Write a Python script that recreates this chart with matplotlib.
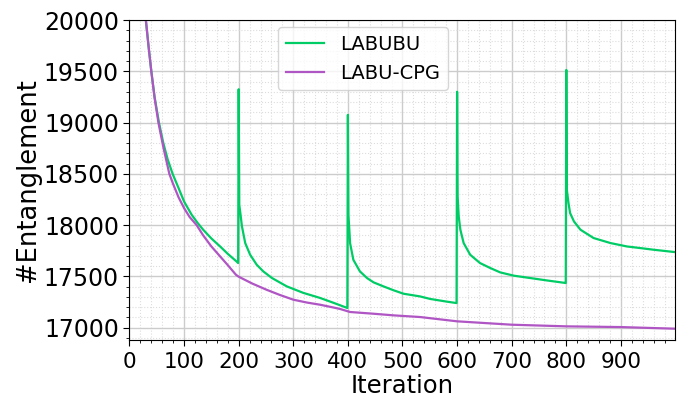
import matplotlib
matplotlib.use("Agg")
import matplotlib.pyplot as plt
from matplotlib.ticker import MultipleLocator

# LABUBU (restarts at 200, 400, 600, 800)
labubu_x = [26, 30, 35, 40, 46, 54, 62, 70, 79, 90, 100, 114, 125, 135, 150, 166, 180, 196, 199,
            200, 201, 203, 206, 212, 221, 233, 245, 261, 288, 318, 349, 375, 399,
            400, 401, 403, 404, 410, 422, 435, 447, 465, 484, 502, 532, 551, 580, 599,
            600, 601, 603, 606, 612, 624, 642, 661, 679, 704, 734, 764, 797, 799,
            800, 801, 804, 807, 814, 826, 850, 881, 911, 936, 960, 999]
labubu_y = [20220, 20000, 19740, 19500, 19250, 19000, 18800, 18640, 18500, 18360, 18230, 18100, 18020, 17955, 17870, 17792, 17720, 17646, 17630,
            19325, 18200, 18120, 17987, 17825, 17711, 17614, 17549, 17484, 17403, 17340, 17290, 17240, 17192,
            19075, 18100, 17922, 17825, 17662, 17549, 17484, 17442, 17403, 17364, 17331, 17305, 17280, 17255, 17240,
            19300, 18279, 18084, 17955, 17825, 17711, 17630, 17581, 17539, 17507, 17484, 17461, 17437, 17435,
            19513, 18344, 18215, 18117, 18036, 17955, 17874, 17825, 17792, 17776, 17760, 17737]

# LABU-CPG
cpg_x = [26, 30, 35, 40, 46, 53, 62, 73, 80, 90, 100, 110, 123, 135, 150, 166, 180, 195, 200,
         225, 251, 275, 300, 325, 349, 375, 386, 404, 447, 484, 532, 600, 700, 800, 900, 999]
cpg_y = [20220, 20000, 19740, 19500, 19240, 19000, 18760, 18500, 18400, 18270, 18166, 18080, 18000, 17900, 17792, 17695, 17610, 17516, 17497,
         17430, 17370, 17320, 17273, 17245, 17224, 17195, 17182, 17153, 17136, 17120, 17104, 17062, 17029, 17013, 17006, 16990]

fig = plt.figure(figsize=(6.8, 3.97), dpi=100)
ax = fig.add_axes([0.1904, 0.1436, 0.8022, 0.806])

ax.plot(labubu_x, labubu_y, color='#00cc66', lw=1.6, label='LABUBU')
ax.plot(cpg_x, cpg_y, color='#b055c4', lw=1.6, label='LABU-CPG')

ax.set_xlim(0, 999)
ax.set_ylim(16880, 20000)
ax.xaxis.set_major_locator(MultipleLocator(100))
ax.xaxis.set_minor_locator(MultipleLocator(20))
ax.yaxis.set_major_locator(MultipleLocator(500))
ax.yaxis.set_minor_locator(MultipleLocator(100))

ax.grid(which='major', color='#cccccc', lw=1)
ax.grid(which='minor', color='#dddddd', lw=0.8, linestyle=':')
ax.set_axisbelow(True)

ax.tick_params(axis='y', which='major', labelsize=17, length=4)
ax.tick_params(axis='x', which='major', labelsize=15.5, length=4, pad=5)
ax.tick_params(which='minor', length=2)

ax.set_xlabel('Iteration', fontsize=17.5, labelpad=1)
ax.set_ylabel('#Entanglement', fontsize=18.5, labelpad=2)

ax.legend(loc='upper left', bbox_to_anchor=(0.259, 1.0), borderaxespad=0.36,
          fontsize=14, framealpha=0.8)

fig.savefig('out.png', dpi=100)
